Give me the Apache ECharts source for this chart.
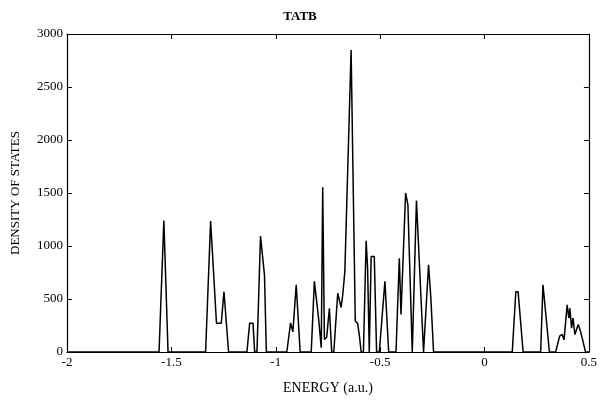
<!DOCTYPE html>
<html>
<head>
<meta charset="utf-8">
<script src="https://cdn.jsdelivr.net/npm/echarts@6/dist/echarts.min.js"></script>
<style>
  html, body { margin: 0; padding: 0; background: #fff; }
  #chart { width: 600px; height: 400px; }
</style>
</head>
<body>
<div id="chart"></div>
<script>
// energy (a.u.) and density of states, vertices
const energy = [
  -2.0, -1.559, -1.536, -1.516,
  -1.336, -1.312, -1.284, -1.261, -1.248, -1.226,
  -1.138, -1.125, -1.109, -1.101,
  -1.090, -1.073, -1.054, -1.045,
  -0.947, -0.929, -0.918, -0.902, -0.883,
  -0.830, -0.815, -0.795, -0.782, -0.775, -0.767, -0.756, -0.743, -0.732,
  -0.722, -0.703, -0.687, -0.679, -0.669, -0.639, -0.619, -0.608, -0.599, -0.591,
  -0.580, -0.567, -0.560, -0.552, -0.543, -0.528, -0.517,
  -0.504, -0.477, -0.459,
  -0.424, -0.408, -0.400, -0.378, -0.367, -0.346,
  -0.340, -0.326, -0.292,
  -0.285, -0.268, -0.257, -0.244,
  0.133, 0.150, 0.161, 0.185,
  0.269, 0.280, 0.288, 0.311,
  0.341, 0.360, 0.372, 0.381, 0.396, 0.404, 0.409, 0.417, 0.424, 0.433, 0.449, 0.460, 0.468, 0.484,
  0.5
]
const dos = [
  0, 0, 1240, 0,
  0, 1235, 272, 272, 569, 0,
  0, 272, 272, 0,
  0, 1094, 725, 0,
  0, 275, 190, 634, 0,
  0, 666, 322, 40, 1555, 118, 140, 412, 0,
  0, 556, 420, 540, 760, 2850, 290, 272, 150, 0,
  0, 1050, 790, 0, 900, 900, 0,
  0, 666, 0,
  0, 884, 353, 1500, 1390, 0,
  0, 1430, 0,
  0, 822, 510, 0,
  0, 569, 569, 0,
  0, 634, 634, 0,
  0, 150, 166, 115, 444, 319, 412, 225, 319, 166, 259, 194, 131, 0,
  0
]
const xTicks = [-2, -1.5, -1, -0.5, 0, 0.5]
const yTicks = [0, 500, 1000, 1500, 2000, 2500, 3000]

const font = 'Liberation Serif'
const points = energy.map((e, i) => [e, dos[i]])

const chart = echarts.init(document.getElementById('chart'))

const axisCommon = {
  axisLine: { show: true, onZero: false, lineStyle: { color: '#000', width: 1.2 } },
  axisTick: { show: true, inside: true, length: 5, lineStyle: { color: '#000' } },
  splitLine: { show: false }
}

chart.setOption({
  animation: false,
  backgroundColor: '#fff',
  title: {
    text: 'TATB',
    left: 'center',
    top: 5,
    textStyle: { fontFamily: font, fontSize: 13, fontWeight: 'bold', color: '#000' }
  },
  grid: { left: 67, right: 10, top: 34, bottom: 46 },
  xAxis: [
    Object.assign({}, axisCommon, {
      type: 'value',
      min: xTicks[0],
      max: xTicks[xTicks.length - 1],
      interval: 0.5,
      name: 'ENERGY (a.u.)',
      nameLocation: 'middle',
      nameGap: 29,
      nameTextStyle: { fontFamily: font, fontSize: 14, color: '#000' },
      axisLabel: { fontFamily: font, fontSize: 13, color: '#000', margin: 4, formatter: v => String(v) }
    }),
    Object.assign({}, axisCommon, {
      type: 'value',
      position: 'top',
      min: xTicks[0],
      max: xTicks[xTicks.length - 1],
      interval: 0.5,
      axisLabel: { show: false }
    })
  ],
  yAxis: [
    Object.assign({}, axisCommon, {
      type: 'value',
      min: yTicks[0],
      max: yTicks[yTicks.length - 1],
      interval: 500,
      name: 'DENSITY OF STATES',
      nameLocation: 'middle',
      nameGap: 45,
      nameTextStyle: { fontFamily: font, fontSize: 13, color: '#000' },
      axisLabel: { fontFamily: font, fontSize: 13, color: '#000', margin: 4, formatter: v => String(v) }
    }),
    Object.assign({}, axisCommon, {
      type: 'value',
      position: 'right',
      min: yTicks[0],
      max: yTicks[yTicks.length - 1],
      interval: 500,
      axisLabel: { show: false }
    })
  ],
  series: [
    {
      type: 'line',
      data: points,
      symbol: 'none',
      lineStyle: { color: '#000', width: 1.5 }
    }
  ]
})
</script>
</body>
</html>
